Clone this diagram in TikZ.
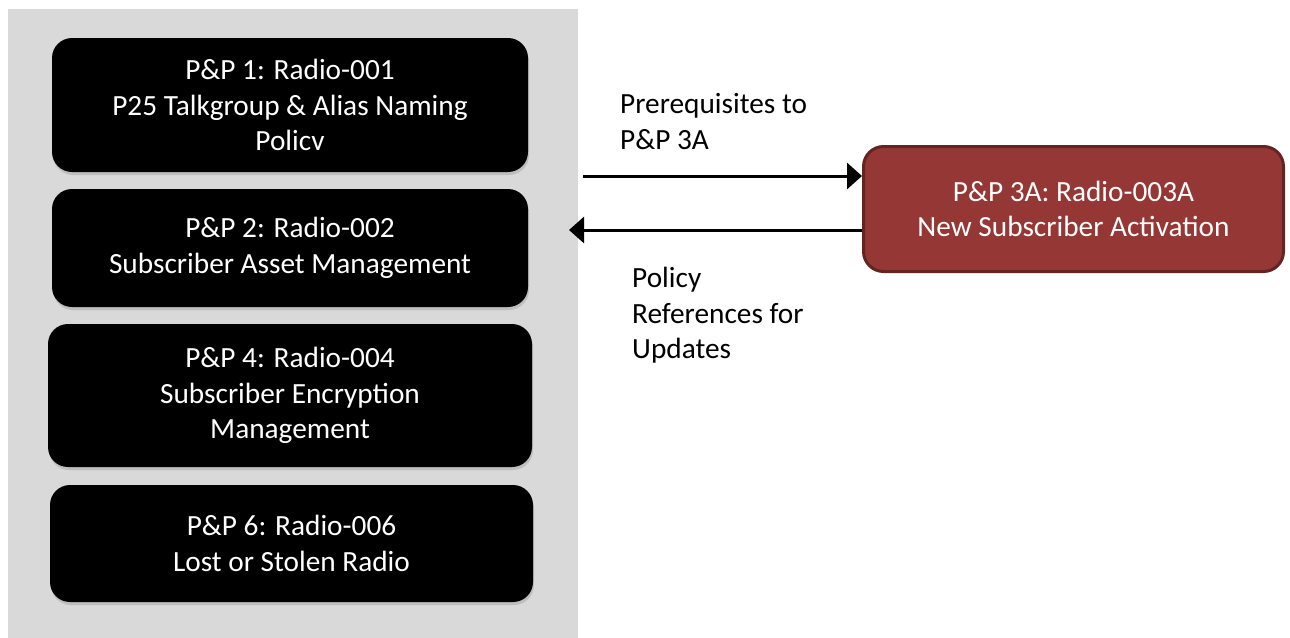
\documentclass[tikz,border=0pt]{standalone}
\usepackage{fontspec}
\setmainfont{Carlito}
\usepackage{tikz}
\usetikzlibrary{positioning, arrows.meta, shadows}

\definecolor{panelgray}{HTML}{D9D9D9}
\definecolor{pprred}{HTML}{953735}
\definecolor{pprredline}{HTML}{632523}

\begin{document}
\begin{tikzpicture}[x=1pt,y=-1pt,
  policy/.style={fill=black,text=white,rounded corners=20pt,align=center,
    font=\fontsize{29.3}{35.5}\selectfont,minimum width=476pt,inner sep=0pt,
    drop shadow={shadow xshift=1pt,shadow yshift=-3pt,opacity=0.3}},
  current/.style={fill=pprred,draw=pprredline,line width=3pt,text=white,
    rounded corners=20pt,align=center,font=\fontsize{29.3}{35.5}\selectfont,
    minimum width=420pt,minimum height=125pt,inner sep=0pt},
  note/.style={align=left,anchor=west,inner sep=0pt,
    font=\fontsize{29.3}{35.5}\selectfont},
  flow/.style={-{Triangle[length=15pt,width=26pt]},line width=3pt}]
\useasboundingbox (0,0) rectangle (1290,637);

\node[fill=panelgray,minimum width=570pt,minimum height=631pt,inner sep=0pt] (grp) at (293,324.5) {};%le fond gris

\node[policy,minimum height=134pt] (pp1) at (290,105) {P\&P 1: Radio-001\\P25 Talkgroup \& Alias Naming\\Policv};
\node[policy,minimum height=118pt] (pp2) at (290,248) {P\&P 2: Radio-002\\Subscriber Asset Management};
\node[policy,minimum height=143pt,minimum width=484pt] (pp4) at (290,395.5) {P\&P 4: Radio-004\\Subscriber Encryption\\Management};
\node[policy,minimum height=117pt,minimum width=483pt] (pp6) at (291.5,543.5) {P\&P 6: Radio-006\\Lost or Stolen Radio};

\node[current] (pp3a) at (1073.5,209) {P\&P 3A: Radio-003A\\New Subscriber Activation};

%les fleches
\coordinate (pre) at (583,176);
\coordinate (ref) at (569,230);
\draw[flow] (pre) -- (pp3a.west |- pre);
\draw[flow] (pp3a.west |- ref) -- (ref);

\node[note] (prereq) at (620,121.5) {Prerequisites to\\P\&P 3A};
\node[note] (polref) at (632,315.5) {Policy\\References for\\Updates};
\end{tikzpicture}
\end{document}
